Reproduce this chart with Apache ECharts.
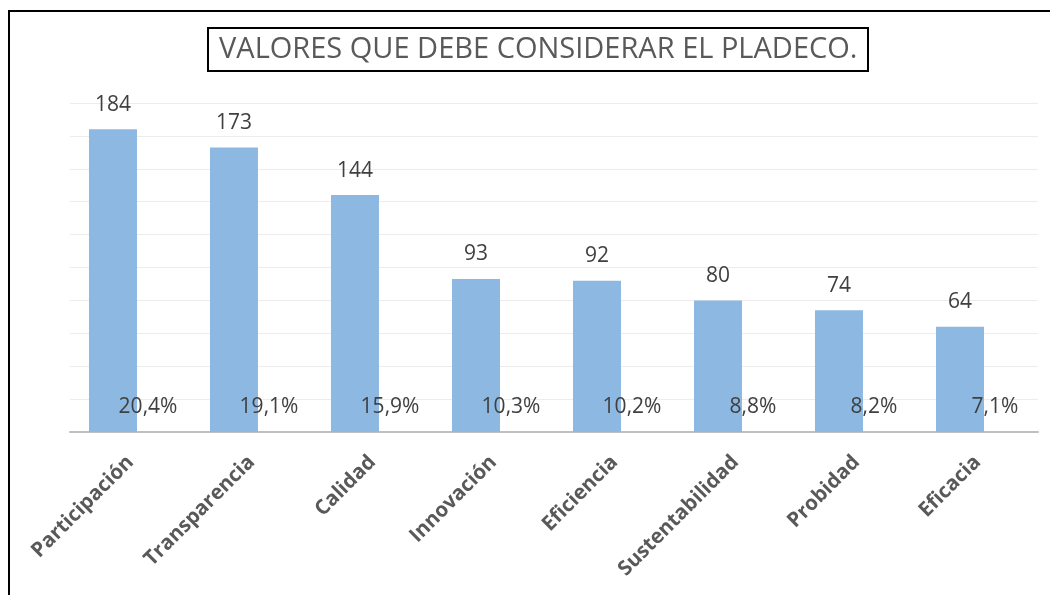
<!DOCTYPE html>
<html>
<head>
<meta charset="utf-8">
<script src="https://cdn.jsdelivr.net/npm/echarts@6/dist/echarts.min.js"></script>
<style>
  html, body { margin: 0; padding: 0; background: #fff; }
  #chart { width: 1050px; height: 595px; }
</style>
</head>
<body>
<div id="chart"></div>
<script>
// datos
const categorias = ['Participación', 'Transparencia', 'Calidad', 'Innovación', 'Eficiencia', 'Sustentabilidad', 'Probidad', 'Eficacia'];
const cantidades = [184, 173, 144, 93, 92, 80, 74, 64];
const porcentajes = [0.204, 0.191, 0.159, 0.103, 0.102, 0.088, 0.082, 0.071];

const textColor = '#595959';
const labelFont = '"Open Sans", sans-serif';

const chart = echarts.init(document.getElementById('chart'));

const etiqueta = {
  show: true,
  position: 'top',
  distance: 14,
  color: '#404040',
  fontFamily: labelFont,
  fontSize: 21
};

chart.setOption({
  animation: false,
  backgroundColor: '#fff',
  title: {
    text: 'VALORES QUE DEBE CONSIDERAR EL PLADECO.',
    left: 208,
    top: 28,
    padding: [7, 11, 7, 11],
    borderColor: '#000',
    borderWidth: 2,
    textStyle: {
      color: textColor,
      fontFamily: labelFont,
      fontSize: 29,
      fontWeight: 'normal'
    }
  },
  graphic: [{
    type: 'rect',
    shape: { x: 9, y: 11, width: 1200, height: 800 },
    style: { fill: 'none', stroke: '#000', lineWidth: 2 },
    silent: true
  }],
  grid: { left: 70, right: 12, top: 103, bottom: 163 },
  xAxis: {
    type: 'category',
    data: categorias,
    axisLine: { lineStyle: { color: '#bfbfbf', width: 2 } },
    axisTick: { show: false },
    axisLabel: {
      rotate: 45,
      margin: 27,
      color: textColor,
      fontFamily: labelFont,
      fontSize: 20.5,
      fontWeight: 'bold'
    }
  },
  yAxis: {
    type: 'value',
    min: 0,
    max: 200,
    interval: 20,
    axisLabel: { show: false },
    axisLine: { show: false },
    axisTick: { show: false },
    splitLine: { lineStyle: { color: '#ececec', width: 1 } }
  },
  series: [
    {
      name: 'Cantidad',
      type: 'bar',
      data: cantidades,
      barWidth: 48,
      barGap: '-27%',
      itemStyle: { color: '#8db8e2' },
      label: etiqueta
    },
    {
      name: 'Porcentaje',
      type: 'bar',
      data: porcentajes,
      barWidth: 48,
      itemStyle: { color: 'rgba(0,0,0,0)' },
      label: Object.assign({}, etiqueta, {
        formatter: p => (p.value * 100).toFixed(1).replace('.', ',') + '%'
      })
    }
  ]
});
</script>
</body>
</html>
